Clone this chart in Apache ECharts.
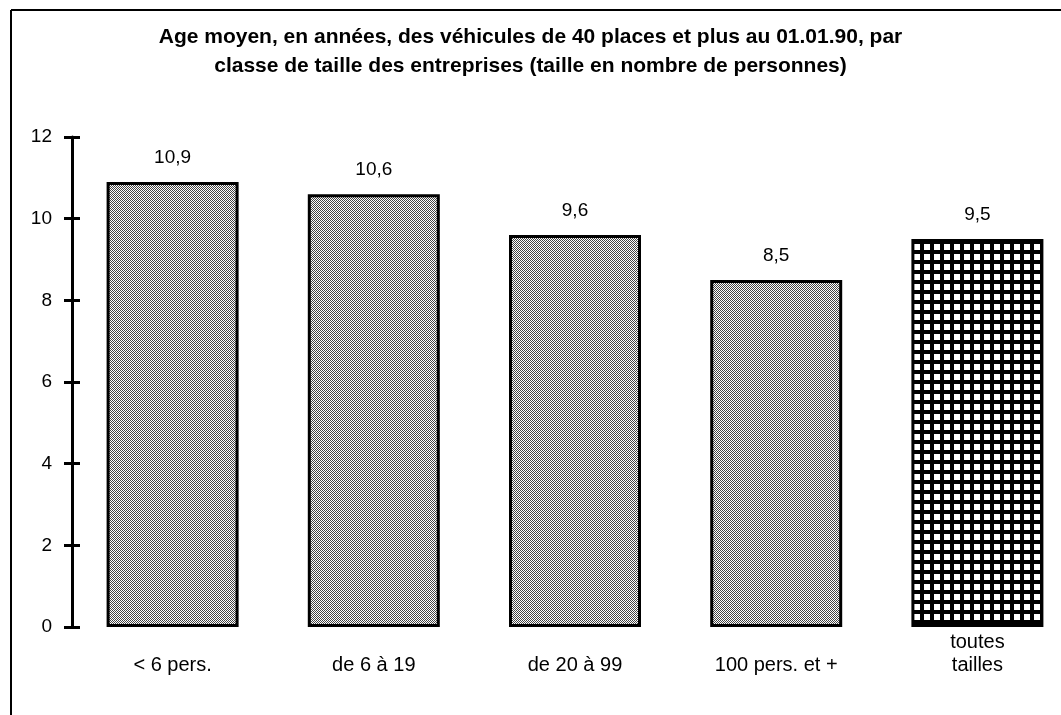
<!DOCTYPE html>
<html>
<head>
<meta charset="utf-8">
<script src="https://cdn.jsdelivr.net/npm/echarts@6/dist/echarts.min.js"></script>
<style>
  html, body { margin: 0; padding: 0; background: #fff; }
  #chart { width: 1061px; height: 715px; }
</style>
</head>
<body>
<div id="chart"></div>
<script>
// données
const categories = ['< 6 pers.', 'de 6 à 19', 'de 20 à 99', '100 pers. et +', 'toutes\ntailles'];
const ages = [10.9, 10.6, 9.6, 8.5, 9.5];
const yTicks = [0, 2, 4, 6, 8, 10, 12];
const totalIndex = 4; // barre "toutes tailles" avec la trame quadrillée

const FONT = '"Liberation Sans", Arial, sans-serif';

// trame pointillée (gris)
function dotPattern() {
    const c = document.createElement('canvas');
    c.width = 2; c.height = 2;
    const ctx = c.getContext('2d');
    ctx.fillStyle = '#fff';
    ctx.fillRect(0, 0, 2, 2);
    ctx.fillStyle = '#444';
    ctx.fillRect(0, 0, 1, 1);
    ctx.fillRect(1, 1, 1, 1);
    return c;
}
// trame quadrillée
function gridPattern() {
    const c = document.createElement('canvas');
    c.width = 10; c.height = 10;
    const ctx = c.getContext('2d');
    ctx.fillStyle = '#000';
    ctx.fillRect(0, 0, 10, 10);
    ctx.fillStyle = '#fff';
    ctx.fillRect(4, 4, 6, 6);
    return c;
}

const dots = {image: dotPattern(), repeat: 'repeat'};
const squares = {image: gridPattern(), repeat: 'repeat'};

const barData = ages.map((v, i) => ({
    value: v,
    itemStyle: {color: i === totalIndex ? squares : dots}
}));

const yMin = yTicks[0], yMax = yTicks[yTicks.length - 1], yStep = yTicks[1] - yTicks[0];

let myChart = echarts.init(document.getElementById('chart'));
myChart.setOption({
    animation: false,
    backgroundColor: '#fff',
    title: {
        text: 'Age moyen, en années, des véhicules de 40 places et plus au 01.01.90, par\nclasse de taille des entreprises (taille en nombre de personnes)',
        left: 'center',
        top: 18,
        textStyle: {
            fontFamily: FONT,
            fontSize: 21,
            fontWeight: 'bold',
            lineHeight: 29,
            color: '#000'
        }
    },
    // cadre (haut et gauche)
    graphic: [
        {type: 'line', shape: {x1: 11, y1: 10, x2: 1061, y2: 10}, style: {stroke: '#000', lineWidth: 2}},
        {type: 'line', shape: {x1: 11, y1: 10, x2: 11, y2: 715}, style: {stroke: '#000', lineWidth: 2}}
    ],
    grid: {
        left: 72,
        right: -17,
        top: 137,
        bottom: 88,
        outerBoundsMode: 'none'
    },
    xAxis: {
        type: 'category',
        data: categories,
        axisLine: {show: false},
        axisTick: {show: false},
        axisLabel: {
            interval: 0,
            margin: 4,
            verticalAlign: 'top',
            lineHeight: 23,
            fontFamily: FONT,
            fontSize: 20,
            color: '#000',
            // les libellés sur une ligne s'alignent sur la 2e ligne de "toutes tailles"
            formatter: v => v.indexOf('\n') < 0 ? '\n' + v : v
        }
    },
    yAxis: [
        {
            type: 'value',
            position: 'left',
            min: yMin,
            max: yMax,
            interval: yStep,
            splitLine: {show: false},
            axisLine: {show: true, lineStyle: {color: '#000', width: 3}},
            axisTick: {show: true, length: 8, lineStyle: {color: '#000', width: 3}},
            axisLabel: {margin: 20, fontFamily: FONT, fontSize: 19, color: '#000'}
        },
        {
            // ticks intérieurs (graduation en croix)
            type: 'value',
            position: 'left',
            min: yMin,
            max: yMax,
            interval: yStep,
            splitLine: {show: false},
            axisLine: {show: false},
            axisTick: {show: true, inside: true, length: 8, lineStyle: {color: '#000', width: 3}},
            axisLabel: {show: false}
        }
    ],
    series: [
        {
            type: 'bar',
            yAxisIndex: 0,
            barWidth: 132,
            data: barData,
            itemStyle: {borderColor: '#000', borderWidth: 3},
            label: {
                show: true,
                position: 'top',
                distance: 15,
                fontFamily: FONT,
                fontSize: 19,
                color: '#000',
                formatter: p => String(p.value).replace('.', ',')
            }
        }
    ]
});
</script>
</body>
</html>
